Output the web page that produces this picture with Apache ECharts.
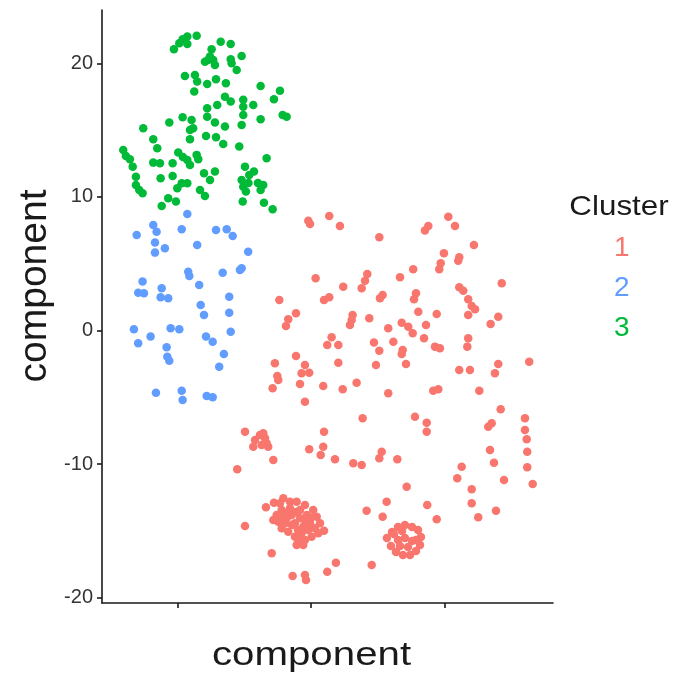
<!DOCTYPE html>
<html>
<head>
<meta charset="utf-8">
<script src="https://cdn.jsdelivr.net/npm/echarts@6/dist/echarts.min.js"></script>
<style>
  html, body { margin: 0; padding: 0; background: #fff; }
  #chart { width: 674px; height: 675px; }
</style>
</head>
<body>
<div id="chart"></div>
<script>
// Cluster labels and their colours
const clusterNames = ['1', '2', '3'];
const clusterColors = ['#F8766D', '#619CFF', '#00BA38'];

// Tick positions on the two component axes
const yTicks = [-20, -10, 0, 10, 20];
const xTicks = [-10, 0, 10];

// Axis titles / legend title
const xTitle = 'component';
const yTitle = 'component';
const legendTitle = 'Cluster';

// Cluster 1 embedding coordinates
const cluster1 = [
  [-0.22,8.22],[-0.09,7.98],[1.35,8.58],[2.15,7.83],[5.10,6.98],[8.77,7.83],[8.52,7.48],[10.27,8.52],[10.77,7.83],[12.19,6.40],
  [9.94,5.78],[9.70,5.03],[9.59,4.58],[11.09,5.48],[11.01,5.23],[14.27,3.54],[0.33,3.91],[2.40,3.28],[4.20,4.23],[4.03,3.73],
  [3.78,3.16],[6.65,3.99],[7.64,4.58],[-2.39,2.28],[0.96,2.28],[1.35,2.49],[5.35,2.66],[5.15,2.41],[7.85,2.79],[7.70,2.34],
  [11.09,3.24],[11.39,2.98],[11.76,2.34],[12.02,1.84],[12.27,1.59],[11.76,1.16],[-1.14,1.29],[-1.72,0.84],[-1.89,0.34],[3.10,1.16],
  [3.03,0.79],[2.90,0.41],[4.35,0.91],[8.02,1.41],[9.40,1.24],[14.01,1.03],[13.44,0.49],[6.78,0.58],[7.27,0.28],[7.60,-0.21],
  [8.60,0.41],[5.77,0.16],[6.15,-0.84],[8.45,-0.58],[6.85,-1.46],[6.78,-1.76],[4.70,-0.91],[5.10,-1.51],[1.53,-0.51],[1.20,-1.09],
  [2.03,-1.09],[9.27,-1.21],[9.64,-1.33],[11.76,-0.58],[11.69,-1.21],[-1.14,-1.91],[-2.72,-2.46],[-0.47,-2.58],[-0.15,-3.16],[-0.72,-3.21],
  [-2.54,-3.41],[-2.47,-3.71],[-2.89,-4.33],[-0.84,-4.01],[2.03,-2.41],[4.85,-2.58],[7.10,-2.51],[11.09,-2.96],[11.89,-2.96],[14.01,-2.51],
  [13.76,-3.21],[16.33,-2.34],[0.90,-4.16],[2.36,-4.40],[3.40,-3.91],[5.77,-4.70],[9.14,-4.51],[9.52,-4.40],[12.59,-4.51],
  [-0.47,-5.33],[3.85,-6.58],[7.77,-6.46],[8.65,-6.91],[8.65,-7.58],[14.19,-5.90],[13.52,-6.95],[13.26,-7.21],[16.01,-6.58],[16.01,-7.45],
  [16.14,-8.15],[16.18,-9.08],[16.18,-10.25],[16.59,-11.50],[-4.96,-7.58],[-4.21,-8.20],[-3.84,-7.83],[-3.46,-8.07],[-3.34,-8.45],[-4.34,-8.70],
  [-3.71,-8.58],[-3.22,-8.70],[-3.59,-7.70],[-2.84,-9.70],[-5.54,-10.40],[0.96,-7.58],[-0.15,-8.90],[0.90,-8.70],[0.71,-9.33],[1.78,-9.65],
  [3.15,-9.95],[3.78,-10.07],[5.28,-9.08],[5.10,-9.57],[6.45,-9.65],[13.39,-8.95],[13.69,-9.90],[11.27,-10.20],[10.94,-11.07],[12.02,-11.90],
  [12.02,-12.94],[14.44,-11.20],[12.51,-13.99],[13.84,-13.50],[7.15,-11.70],[5.65,-12.82],[4.15,-13.50],[5.35,-13.95],[8.69,-13.07],[9.40,-14.14],
  [-4.96,-14.64],[-2.96,-16.69],[1.85,-17.39],[1.20,-18.07],[4.53,-17.57],[-1.39,-18.39],[-0.47,-18.31],[-0.39,-18.69],
  // dense group on the lower left
  [-3.39,-13.24],[-2.79,-12.90],[-2.09,-12.57],[-1.09,-12.82],[-0.47,-13.07],[0.15,-13.45],[0.41,-13.95],[0.66,-14.44],[0.96,-15.00],[0.53,-15.19],
  [0.03,-15.45],[-0.47,-15.69],[-0.97,-15.69],[-1.22,-15.45],[-1.72,-15.07],[-2.21,-14.82],[-2.47,-14.32],[-2.59,-13.82],[-2.21,-13.45],[-1.59,-13.32],
  [-0.84,-13.45],[-0.34,-13.82],[-0.09,-14.44],[-0.60,-14.70],[-1.22,-14.44],[-1.84,-14.07],[-1.46,-13.82],[-0.84,-14.07],[-0.22,-14.94],[-1.97,-14.44],
  [-0.72,-15.19],[0.28,-14.82],[-2.34,-12.94],[-1.59,-12.82],[-2.84,-14.19],[-0.60,-16.07],[-1.09,-16.07],
  [-1.44,-14.57],[-0.99,-14.94],[-0.47,-14.19],[-1.67,-13.60],[-1.14,-13.60],[-0.02,-14.04],[-2.12,-13.97],
  // dense group on the lower right
  [5.67,-15.54],[6.05,-15.09],[6.50,-14.72],[7.02,-14.57],[7.55,-14.72],[8.00,-14.94],[8.22,-15.47],[8.15,-16.07],[7.85,-16.52],[7.40,-16.82],
  [6.87,-16.82],[6.35,-16.59],[5.97,-16.14],[6.50,-15.69],[7.02,-15.54],[7.55,-15.77],[7.25,-16.22],[6.65,-16.14],[6.20,-15.24],[7.85,-15.69],[6.80,-15.02]
];

// Cluster 2 embedding coordinates
const cluster2 = [
  [-9.28,8.73],[-11.83,7.90],[-11.58,7.40],[-13.07,7.15],[-9.70,7.58],[-7.13,7.53],[-6.33,7.58],[-5.88,7.08],[-11.70,6.58],[-10.96,6.16],
  [-11.70,5.83],[-8.54,6.40],[-4.72,5.90],[-9.21,4.40],[-9.13,4.08],[-6.63,4.33],[-5.34,4.53],[-5.21,4.66],[-12.63,3.66],[-12.96,2.83],
  [-12.53,2.79],[-11.20,3.16],[-11.28,2.49],[-10.71,2.41],[-8.39,3.41],[-6.14,2.53],[-8.28,1.91],[-8.03,1.16],[-6.14,1.33],[-13.28,0.09],
  [-10.53,0.16],[-9.88,0.09],[-12.03,-0.46],[-12.96,-0.96],[-7.88,-0.46],[-7.38,-0.84],[-6.03,-0.09],[-10.83,-1.26],[-10.78,-1.96],[-10.63,-2.26],
  [-6.54,-1.76],[-6.89,-2.71],[-11.63,-4.66],[-9.70,-4.51],[-9.63,-5.21],[-7.83,-4.91],[-7.38,-5.00]
];

// Cluster 3 embedding coordinates
const cluster3 = [
  [-8.58,22.08],[-9.28,22.01],[-9.63,21.81],[-9.88,21.51],[-10.28,21.06],[-9.28,21.46],[-6.78,21.63],[-6.03,21.46],[-7.46,21.06],[-5.21,20.56],
  [-6.03,20.31],[-7.96,20.13],[-7.34,20.26],[-7.21,19.89],[-7.58,20.51],[-5.96,20.01],[-5.58,19.51],[-9.46,19.06],[-8.71,19.14],[-8.54,18.64],
  [-7.79,18.46],[-7.13,18.82],[-6.39,18.52],[-8.76,17.89],[-3.79,18.31],[-2.34,17.96],[-2.79,17.32],[-6.46,17.51],[-6.03,17.14],[-5.09,17.27],
  [-4.34,16.89],[-7.04,16.89],[-7.79,16.64],[-5.09,16.76],[-5.09,16.14],[-2.14,16.14],[-1.84,16.01],[-3.79,15.82],[-7.79,16.01],[-9.63,15.97],
  [-8.96,15.77],[-10.63,15.57],[-7.21,15.57],[-8.84,15.15],[-6.46,15.27],[-5.21,15.39],[-12.58,15.15],[-9.08,15.02],[-7.88,14.57],[-7.13,14.47],
  [-6.59,13.97],[-11.83,14.32],[-9.08,14.32],[-11.53,13.65],[-5.39,13.77],[-14.08,13.52],[-9.96,13.32],[-8.58,13.15],[-13.58,12.82],[-11.83,12.57],
  [-10.38,12.52],[-9.28,12.77],[-9.08,12.40],[-8.46,12.82],[-3.34,12.90],[-13.37,12.27],[-11.33,12.52],[-4.96,12.27],[-4.29,11.90],[-7.21,11.90],
  [-8.03,11.78],[-13.13,11.52],[-11.28,11.40],[-10.38,11.57],[-7.58,11.27],[-5.21,11.27],[-4.64,11.65],[-9.70,11.03],[-9.28,11.03],[-10.03,10.65],
  [-3.59,10.90],[-5.09,10.77],[-12.88,10.52],[-12.63,10.28],[-4.89,10.40],[-3.79,10.52],[-7.96,10.07],[-10.71,9.90],[-10.13,9.65],[-11.20,9.33],
  [-5.13,9.65],[-3.54,9.57],[-2.89,9.08],[-9.61,13.00],[-8.33,10.52],[-13.88,13.07],[-7.73,20.26],[-4.70,11.05],[-3.99,11.05],[-13.13,10.90]
];

const clusterData = [cluster1, cluster2, cluster3];

const FONT = '"Liberation Sans", Arial, Helvetica, sans-serif';

const chart = echarts.init(document.getElementById('chart'), null, { renderer: 'canvas' });

chart.setOption({
  animation: false,
  backgroundColor: '#ffffff',
  grid: { left: 102, right: 121, top: 10, bottom: 72, containLabel: false },
  xAxis: {
    type: 'value',
    min: -15.67,
    max: 18.11,
    axisLine: { show: true, onZero: false, lineStyle: { color: '#1a1a1a', width: 1.6 } },
    axisTick: { show: true, length: 5, customValues: xTicks, lineStyle: { color: '#1a1a1a', width: 1.6 } },
    axisLabel: { show: false },
    splitLine: { show: false }
  },
  yAxis: {
    type: 'value',
    min: -20.41,
    max: 24.0,
    axisLine: { show: true, onZero: false, lineStyle: { color: '#1a1a1a', width: 1.6 } },
    axisTick: { show: true, length: 5, customValues: yTicks, lineStyle: { color: '#1a1a1a', width: 1.6 } },
    axisLabel: {
      show: true, customValues: yTicks, margin: 9,
      fontSize: 20, color: '#333333', fontFamily: FONT
    },
    splitLine: { show: false }
  },
  legend: {
    orient: 'vertical',
    left: 604,
    top: 229,
    icon: 'none',
    itemWidth: 0,
    itemHeight: 14,
    itemGap: 12,
    selectedMode: false,
    textStyle: { fontSize: 28, fontFamily: FONT },
    data: clusterNames.map((n, i) => ({ name: n, textStyle: { color: clusterColors[i] } }))
  },
  graphic: [
    {
      type: 'text', x: 619, y: 207, scaleX: 1.12,
      style: { text: legendTitle, font: '28px ' + FONT, fill: '#1a1a1a', textAlign: 'center', textVerticalAlign: 'middle' }
    },
    {
      type: 'text', x: 311.5, y: 656, scaleX: 1.22,
      style: { text: xTitle, font: '33px ' + FONT, fill: '#1a1a1a', textAlign: 'center', textVerticalAlign: 'middle' }
    },
    {
      type: 'text', x: 35, y: 286, rotation: Math.PI / 2,
      style: { text: yTitle, font: '39px ' + FONT, fill: '#1a1a1a', textAlign: 'center', textVerticalAlign: 'middle' }
    }
  ],
  series: clusterNames.map((n, i) => ({
    name: n,
    type: 'scatter',
    data: clusterData[i],
    symbol: 'circle',
    symbolSize: 8.5,
    itemStyle: { color: clusterColors[i], opacity: 1 },
    emphasis: { disabled: true }
  }))
});
</script>
</body>
</html>
